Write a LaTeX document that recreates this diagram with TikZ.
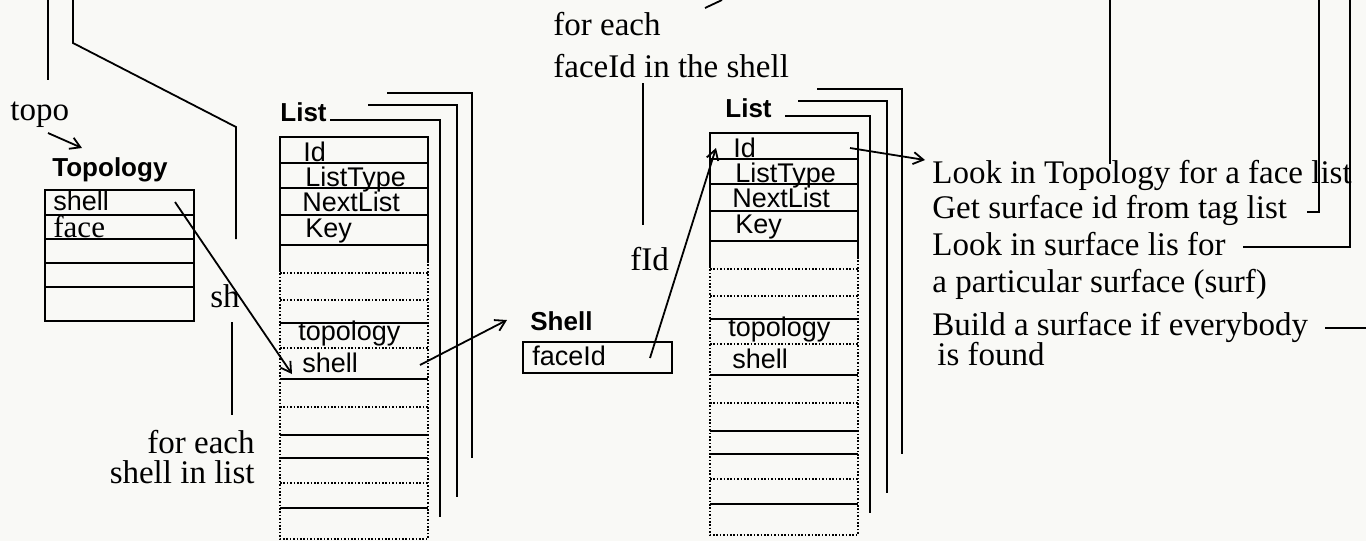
\documentclass[tikz,border=0pt]{standalone}
\usepackage{fontspec}
\setmainfont{Liberation Serif}
\setsansfont{Liberation Sans}
\usetikzlibrary{arrows.meta}
\definecolor{bgc}{RGB}{249,249,246}
\tikzset{
  ln/.style={line width=0.9pt, black},
  dotln/.style={line width=0.8pt, black, dash pattern=on 0.8pt off 0.9pt},
  arr/.style={ln, -{Straight Barb[length=5pt,width=6pt]}},
  ser/.style={font=\fontsize{16.5}{18}\selectfont, inner sep=0pt, anchor=base west},
  sf/.style={font=\sffamily\fontsize{13.5}{15}\selectfont, inner sep=0pt, anchor=base west},
  lbl/.style={font=\sffamily\bfseries\fontsize{13}{15}\selectfont, inner sep=0pt, anchor=base west},
}
% #1 prefix, #2 xshift, #3 yshift, #4 label x, #5 line start x
\newcommand\memlist[5]{%
\begin{scope}[shift={(#2,#3)}]
  \draw[ln] (280,270) -- (280,137) -- (428,137) -- (428,262);
  \draw[dotln] (280,270) -- (280,539) -- (428,539) -- (428,262);
  \foreach \yy in {163,188,215,245,323,379,435,458,508} \draw[ln] (280,\yy) -- (428,\yy);
  \foreach \yy in {273,300,348,407,483} \draw[dotln] (280,\yy) -- (428,\yy);
  \node[sf] (#1-id) at (303,161) {Id};
  \node[sf] (#1-lt) at (305,186) {ListType};
  \node[sf] (#1-nl) at (302,211) {NextList};
  \node[sf] (#1-key) at (305,237) {Key};
  \node[sf] (#1-topo) at (298,340) {topology};
  \node[sf] (#1-shell) at (302,372) {shell};
  \node[lbl] (#1-lbl) at (#4,121) {List};
  \coordinate (#1-f1a) at (#5,120);
  \coordinate (#1-f1b) at (440,517);
  \coordinate (#1-f2a) at (368,105);
  \coordinate (#1-f2b) at (457,497);
  \coordinate (#1-f3a) at (387,93);
  \coordinate (#1-f3b) at (472,458);
  \draw[ln] (#1-f1a) -- (#1-f1b |- #1-f1a) -- (#1-f1b);
  \draw[ln] (#1-f2a) -- (#1-f2b |- #1-f2a) -- (#1-f2b);
  \draw[ln] (#1-f3a) -- (#1-f3b |- #1-f3a) -- (#1-f3b);
\end{scope}}
\begin{document}
\begin{tikzpicture}[x=0.5pt, y=-0.5pt]
\fill[bgc] (0,0) rectangle (1366,541);
\useasboundingbox (0,0) rectangle (1366,541);

% ---- left top lines
\coordinate (a1) at (48,0);   \coordinate (a2) at (48,80);
\draw[ln] (a1) -- (a2);
\coordinate (b1) at (73,0);   \coordinate (b2) at (236,239);
\draw[ln] (b1) -- (73,43) -- (236,127) -- (b2);

\node[ser] (topo) at (10,120) {topo};
\coordinate (ta1) at (48,133); \coordinate (ta2) at (82,148);
\draw[arr] (ta1) -- (ta2);

% ---- Topology record
\node[lbl] (toplbl) at (52,176) {Topology};
\draw[ln] (45,190) rectangle (194,321);
\foreach \yy in {215,239,263,287} \draw[ln] (45,\yy) -- (194,\yy);
\node[sf] (tshell) at (53,210) {shell};
\node[ser, font=\fontsize{15.5}{17}\selectfont] (tface) at (53,237) {face};

\node[ser] (sh) at (210,307) {sh};
\coordinate (s1) at (232,322); \coordinate (s2) at (232,415);
\draw[ln] (s1) -- (s2);
\node[ser, anchor=base east] (fe1) at (255,453) {for each};
\node[ser, anchor=base east] (fe2) at (255,483) {shell in list};

% ---- lists
\memlist{L1}{0}{0}{280}{330}
\memlist{L2}{430}{-4}{295}{355}

% ---- connectors
\coordinate (c1) at (175,202); \coordinate (c2) at (292,374);
\draw[arr] (c1) -- (c2);
\coordinate (d1) at (420,365); \coordinate (d2) at (507,320);
\draw[arr] (d1) -- (d2);

% ---- Shell record
\node[lbl] (shlbl) at (530,330) {Shell};
\draw[ln] (523,342) rectangle (672,373);
\node[sf] (faceid) at (532,365) {faceId};
\coordinate (e1) at (650,358); \coordinate (e2) at (716,148);
\draw[arr] (e1) -- (e2);

\node[ser] (fid) at (630,270) {fId};
\coordinate (v1) at (643,83); \coordinate (v2) at (643,225);
\draw[ln] (v1) -- (v2);
\node[ser] (fe3) at (553,35) {for each};
\node[ser] (fe4) at (553,77) {faceId in the shell};
\coordinate (g1) at (705,8); \coordinate (g2) at (722,0);
\draw[ln] (g1) -- (g2);

\coordinate (h1) at (850,148); \coordinate (h2) at (925,160);
\draw[arr] (h1) -- (h2);

% ---- right side
\node[ser] (r1) at (932,183) {Look in Topology for a face list};
\node[ser] (r2) at (932,218) {Get surface id from tag list};
\node[ser] (r3) at (932,255) {Look in surface lis for};
\node[ser] (r4) at (932,292) {a particular surface (surf)};
\node[ser] (r5) at (932,335) {Build a surface if everybody};
\node[ser] (r6) at (937,365) {is found};

\coordinate (k1) at (1110,0); \coordinate (k2) at (1110,164);
\draw[ln] (k1) -- (k2);
\coordinate (m1) at (1319,0); \coordinate (m2) at (1307,212);
\draw[ln] (m1) -- (m1 |- m2) -- (m2);
\coordinate (n1) at (1350,0); \coordinate (n2) at (1243,247);
\draw[ln] (n1) -- (n1 |- n2) -- (n2);
\coordinate (p1) at (1325,328); \coordinate (p2) at (1366,328);
\draw[ln] (p1) -- (p2);
\end{tikzpicture}
\end{document}
